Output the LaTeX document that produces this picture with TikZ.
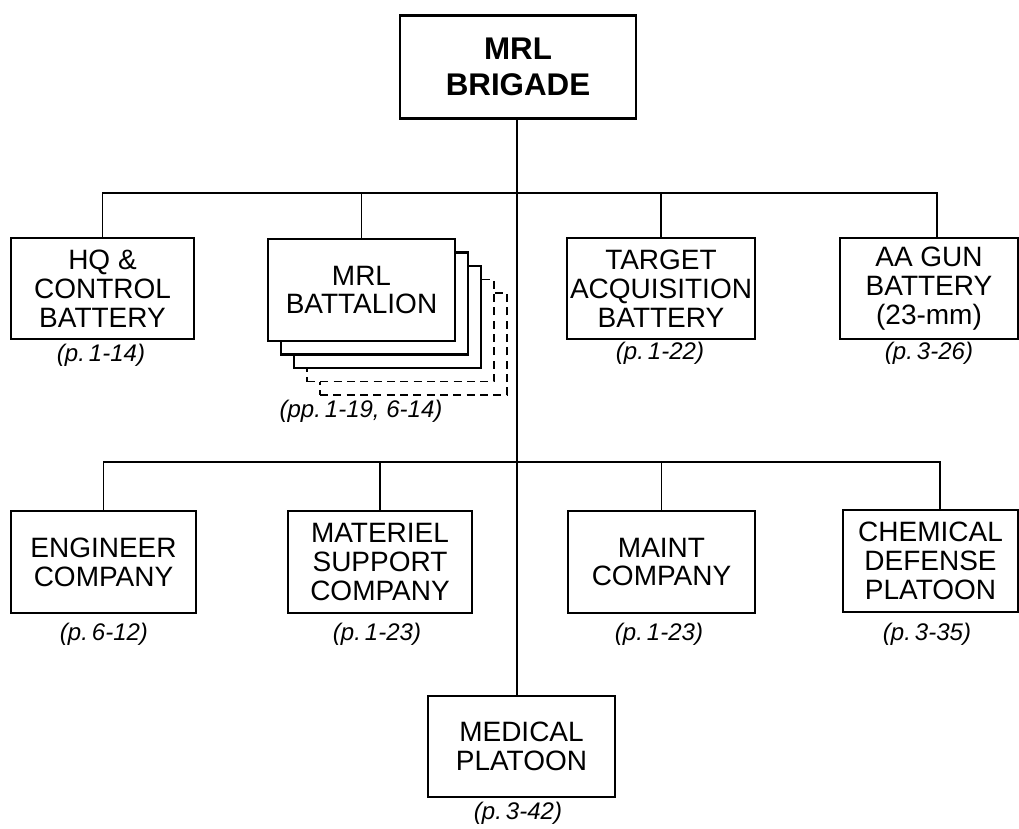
\documentclass[tikz,border=0pt]{standalone}
\usepackage{fontspec}
\setmainfont{Liberation Sans}
\begin{document}
\begin{tikzpicture}[x=0.75pt,y=-0.75pt,
  box/.style={draw, line width=1.9pt, fill=white, align=center, inner sep=0pt,
    minimum height=76pt, font=\fontsize{21}{21.6}\selectfont},
  ghost/.style={draw, line width=0.9pt, dash pattern=on 6pt off 4pt, fill=white,
    minimum width=140.25pt, minimum height=76.5pt, inner sep=0pt},
  back/.style={draw, line width=1.9pt, fill=white,
    minimum width=140.25pt, minimum height=76.5pt, inner sep=0pt},
  lab/.style={font=\itshape\fontsize{18}{20}\selectfont, inner sep=0pt},
  link/.style={line width=1.4pt}]
\fill[white] (0,0) rectangle (1019,828);
\useasboundingbox (0,0) rectangle (1019,828);

% top
\node[box, minimum width=177pt, minimum height=77pt, line width=2.2pt,
  font=\bfseries\fontsize{23.5}{27}\selectfont] (top) at (518,67) {MRL\\BRIGADE};

% row 1
\node[box, minimum width=137.25pt] (hq) at (102.5,288.5) {HQ \&\\CONTROL\\BATTERY};
\node[ghost] (d5) at (413.5,344) {};
\node[ghost] (d4) at (400.5,330.5) {};
\node[back] (s3) at (387.5,317) {};
\node[back] (s2) at (374.5,303.5) {};
\node[box, minimum width=140.25pt, minimum height=76.5pt] (mrl) at (361.5,290) {MRL\\BATTALION};
\node[box, minimum width=141pt] (tgt) at (661,288.5) {TARGET\\ACQUISITION\\BATTERY};
\node[box, minimum width=133.5pt] (aa) at (929,288.5) {AA GUN\\BATTERY\\(23-mm)};

\node[lab] (hql) at (101,355) {(p.\,1-14)};
\node[lab] (mrll) at (361,411) {(pp.\,1-19, 6-14)};
\node[lab] (tgtl) at (660,353) {(p.\,1-22)};
\node[lab] (aal) at (929,353) {(p.\,3-26)};

% row 2
\node[box, minimum width=138.75pt, minimum height=76.5pt] (eng) at (103.5,562) {ENGINEER\\COMPANY};
\node[box, minimum width=138pt, minimum height=76.5pt] (mat) at (380,562) {MATERIEL\\SUPPORT\\COMPANY};
\node[box, minimum width=140.25pt, minimum height=76.5pt] (mnt) at (661.5,562) {MAINT\\COMPANY};
\node[box, minimum width=131.25pt, minimum height=76.5pt] (chem) at (930.5,561) {CHEMICAL\\DEFENSE\\PLATOON};

\node[lab] (engl) at (104,634) {(p.\,6-12)};
\node[lab] (matl) at (377,634) {(p.\,1-23)};
\node[lab] (mntl) at (659,634) {(p.\,1-23)};
\node[lab] (cheml) at (927,634) {(p.\,3-35)};

% medical
\node[box, minimum width=140.25pt, minimum height=75.75pt] (med) at (521.5,746.5) {MEDICAL\\PLATOON};
\node[lab] (medl) at (518,813) {(p.\,3-42)};

% connectors
\coordinate (b1) at (517,193);
\coordinate (b2) at (517,462);
\draw[link] (top.south -| b1) -- (b1 |- med.north);
\draw[link] (hq.north) |- (b1) -| ([xshift=6pt]aa.north);
\draw[link] (mrl.north) -- (mrl.north |- b1);
\draw[link] (tgt.north) -- (tgt.north |- b1);
\draw[link] (eng.north) |- (b2) -| ([xshift=7pt]chem.north);
\draw[link] (mat.north) -- (mat.north |- b2);
\draw[link] (mnt.north) -- (mnt.north |- b2);
\end{tikzpicture}
\end{document}
